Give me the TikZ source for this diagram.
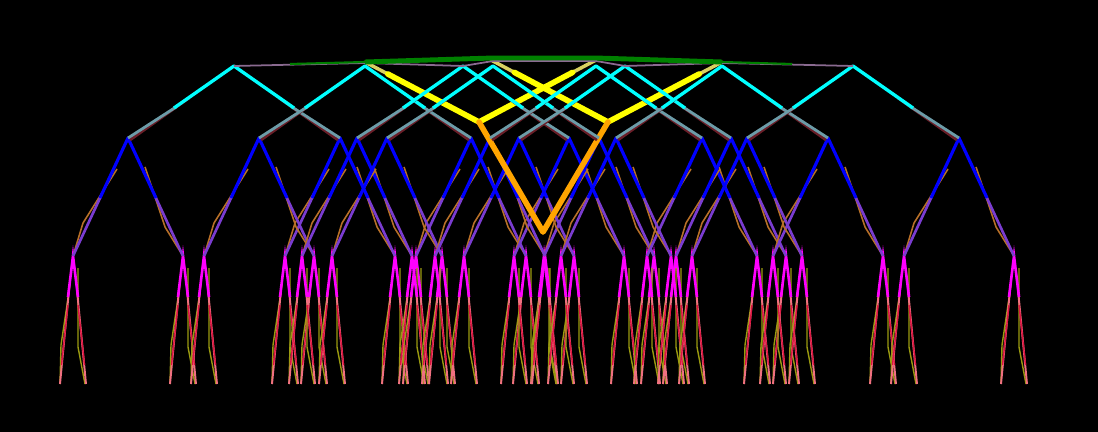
\documentclass[tikz,border=0pt]{standalone}
\usepackage{tikz}
\usetikzlibrary{calc}
\definecolor{leafpink}{HTML}{F07080}
\definecolor{leafred}{HTML}{DC1440}
\definecolor{leafolive}{HTML}{9A9A10}
\definecolor{leafmagenta}{HTML}{FF00FF}
\definecolor{stemblue}{HTML}{0000FF}
\definecolor{stemviolet}{HTML}{7A3CD0}
\definecolor{stemshade}{HTML}{B87028}
\definecolor{armcyan}{HTML}{00FFFF}
\definecolor{armgrey}{HTML}{6C9CA8}
\definecolor{armshade}{HTML}{6A1E28}
\definecolor{crowngreen}{HTML}{008000}
\definecolor{crownmauve}{HTML}{8A6A90}
\definecolor{vorange}{HTML}{FFA500}
\definecolor{vyellow}{HTML}{FFFF00}
\definecolor{paleyellow}{HTML}{D8D060}
\tikzstyle{leafshade}=[leafolive,line width=.8pt]
\tikzstyle{leafline}=[leafpink,line width=1.1pt]
\tikzstyle{leafcore}=[leafred,line width=.8pt]
\tikzstyle{leaftop}=[leafmagenta,line width=1.5pt]
\tikzstyle{stemshadeline}=[stemshade,line width=.9pt]
\tikzstyle{stemtop}=[stemblue,line width=1.8pt]
\tikzstyle{stemlow}=[stemviolet,line width=1.5pt]
\tikzstyle{armshadeline}=[armshade,line width=1.6pt]
\tikzstyle{armtop}=[armcyan,line width=1.9pt]
\tikzstyle{armlow}=[armgrey,line width=1.6pt]
\tikzstyle{crown}=[crowngreen,line width=2.8pt,line join=round]
\tikzstyle{fold}=[line width=3.2pt,line join=round,line cap=round]

\begin{document}
\begin{tikzpicture}[x=0.02cm,y=-0.02cm]
    \fill[black] (0,0) rectangle (1098,432);
    % lowest level: magenta tips
    \foreach \c in {234,365,463,493,596,625,722,853}
    \foreach \s in {-1,1}
    \foreach \t in {-1,1} {
        \pgfmathsetmacro\m{\c+106*\s+55*\t}
        \draw[leafshade] (\m-3,285) -- (\m-12,345) -- (\m-13,384);
        \draw[leafshade] (\m+5,268) -- (\m+5,347) -- (\m+12,384);
        \draw[leafline] (\m-4,290) -- (\m-13,384);
        \draw[leafline] (\m+4,290) -- (\m+13,384);
        \draw[leafcore] (\m-5,305) -- (\m-11.5,365);
        \draw[leafcore] (\m+5,305) -- (\m+11.5,365);
        \draw[leaftop] (\m-5,297) -- (\m,256) -- (\m+5,297);
    }
    % blue level
    \foreach \c in {234,365,463,493,596,625,722,853}
    \foreach \s in {-1,1} {
        \pgfmathsetmacro\b{\c+106*\s}
        \draw[stemshadeline] (\b-11,169) -- (\b-45,223) -- (\b-55,256);
        \draw[stemshadeline] (\b+17,167) -- (\b+37,227) -- (\b+55,256);
        \draw[stemlow] (\b-27,196) -- (\b-55,256);
        \draw[stemlow] (\b+27,196) -- (\b+55,256);
        \draw[stemtop,line join=round] (\b-28,198) -- (\b,138) -- (\b+28,198);
    }
    % the two folds
    \coordinate (yl) at (365,62);
    \coordinate (ylm) at (479,122);
    \coordinate (yr) at (596,60);
    \coordinate (zl) at (491,60);
    \coordinate (zrm) at (608,122);
    \coordinate (zr) at (722,62);
    \coordinate (ob) at (543,232);
    \draw[fold,paleyellow,line width=2pt] (yl) -- (ylm) -- (yr);
    \draw[fold,paleyellow,line width=2pt] (zl) -- (zrm) -- (zr);
    \draw[fold,vyellow] ($(yl)!.2!(ylm)$) -- (ylm) -- ($(yr)!.2!(ylm)$);
    \draw[fold,vyellow] ($(zl)!.2!(zrm)$) -- (zrm) -- ($(zr)!.2!(zrm)$);
    \draw[fold,vorange] (ylm) -- (ob) -- (zrm);
    % cyan level
    \foreach \c in {234,365,463,493,596,625,722,853} {
        \draw[armshadeline] (\c-45,98) -- (\c-104,140);
        \draw[armshadeline] (\c+45,98) -- (\c+104,140);
        \draw[armlow] (\c-58,107) -- (\c-106,138);
        \draw[armlow] (\c+58,107) -- (\c+106,138);
        \draw[armtop,line join=round] (\c-60,108) -- (\c,66) -- (\c+60,108);
    }
    % top band
    \draw[crownmauve,line width=1pt] (234,66) -- (365,63) -- (463,66) -- (493,61)
        -- (596,61) -- (625,66) -- (722,63) -- (853,66);
    \draw[crowngreen,line width=1.2pt] (290,64) -- (yl);
    \draw[crowngreen,line width=1.2pt] (zr) -- (792,64);
    \draw[crown] (yl) -- (493,58) -- (596,58) -- (zr);
\end{tikzpicture}
\end{document}
